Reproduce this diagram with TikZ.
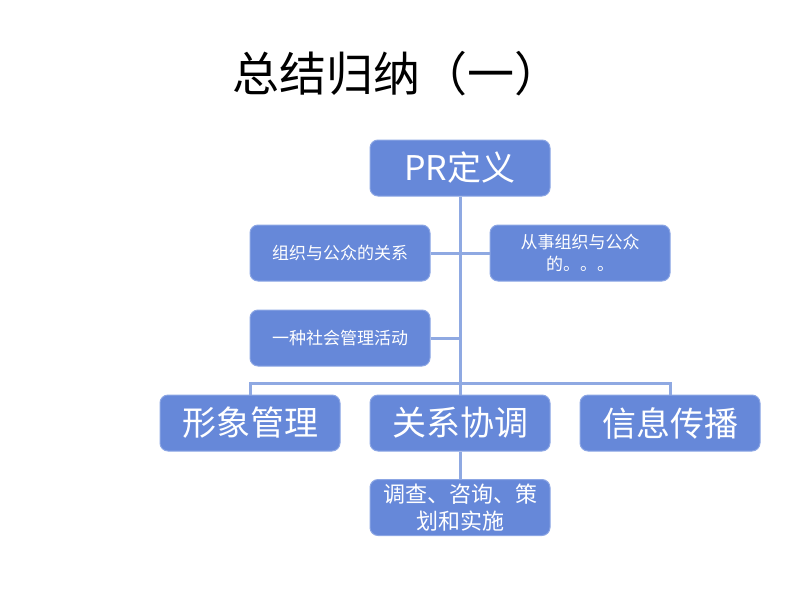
\documentclass[tikz,border=0pt]{standalone}
\usepackage{fontspec}
\setmainfont{Noto Sans CJK SC}
\definecolor{boxblue}{RGB}{102,136,217}
\definecolor{boxedge}{RGB}{140,166,228}
\definecolor{lineblue}{RGB}{143,169,226}
\begin{document}
\begin{tikzpicture}[x=1pt,y=-1pt,
  box/.style={rectangle, rounded corners=8pt, fill=boxblue, draw=boxedge, line width=1pt,
    text=white, minimum width=180pt, minimum height=56pt, inner sep=2pt, align=center},
  bigbox/.style={box, font=\fontsize{34}{38}\selectfont},
  smallbox/.style={box, font=\fontsize{17}{22}\selectfont},
  midbox/.style={box, font=\fontsize{22}{27}\selectfont},
  conn/.style={draw=lineblue, line width=3pt}]
\useasboundingbox (0,0) rectangle (800,600);
\node[font=\fontsize{47}{52}\selectfont, inner sep=0pt] (title) at (397,74) {总结归纳（一）};
\node[bigbox] (pr) at (460,168) {PR定义};
\node[smallbox] (org) at (340,253) {组织与公众的关系};
\node[smallbox] (eng) at (580,253) {从事组织与公众\\的。。。};
\node[smallbox] (soc) at (340,338) {一种社会管理活动};
\node[bigbox] (img) at (250,423) {形象管理};
\node[bigbox] (rel) at (460,423) {关系协调};
\node[bigbox] (info) at (670,423) {信息传播};
\node[midbox] (sub) at (460,507.5) {调查、咨询、策\\划和实施};
\coordinate (bus) at (460,383);
\draw[conn] (pr.south) -- (rel.north);
\draw[conn] (org.east) -- (org.east -| pr.south);
\draw[conn] (eng.west) -- (eng.west -| pr.south);
\draw[conn] (soc.east) -- (soc.east -| pr.south);
\draw[conn] (img.north) |- (bus) -| (info.north);
\draw[conn] (rel.south) -- (sub.north);
\end{tikzpicture}
\end{document}
